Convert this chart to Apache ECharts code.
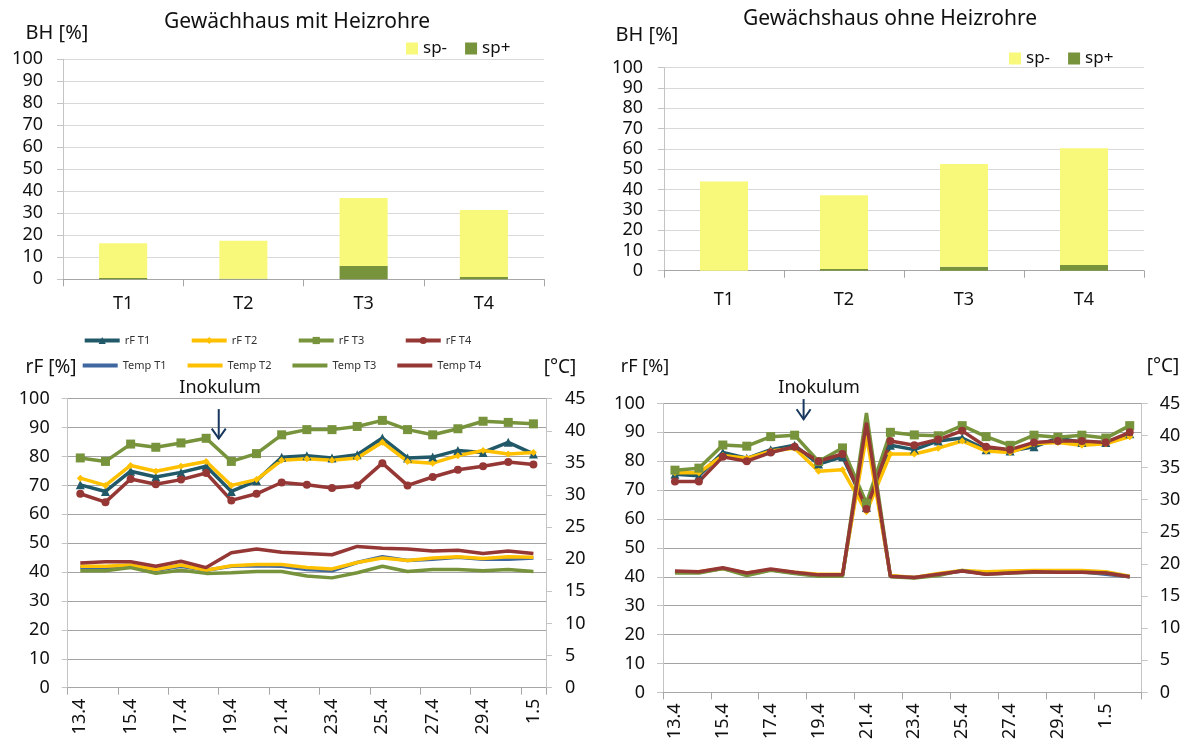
<!DOCTYPE html>
<html lang="de">
<head>
    <meta charset="UTF-8">
    <title>Befallshaeufigkeit und Klima</title>
    <script src="https://cdn.jsdelivr.net/npm/echarts@6/dist/echarts.min.js"></script>
    <style>
        html, body {
            margin: 0;
            padding: 0;
            background: #fff;
        }

        #main {
            width: 1184px;
            height: 754px;
        }
    </style>
</head>
<body>
<div id="main"></div>
<script>
    // Befallshaeufigkeit (BH) je Variante
    var varianten = ['T1', 'T2', 'T3', 'T4'];
    var mitSpMinus = [15.8, 17.3, 30.9, 30.4];
    var mitSpPlus = [0.6, 0.2, 6.1, 1.1];
    var ohneSpMinus = [44.0, 36.4, 50.6, 57.5];
    var ohneSpPlus = [0, 0.8, 2.0, 2.8];

    // Tage fuer die Klimadaten
    var tageMit = ['13.4', '14.4', '15.4', '16.4', '17.4', '18.4', '19.4', '20.4', '21.4', '22.4',
        '23.4', '24.4', '25.4', '26.4', '27.4', '28.4', '29.4', '30.4', '1.5'];
    var tageOhne = ['13.4', '14.4', '15.4', '16.4', '17.4', '18.4', '19.4', '20.4', '21.4', '22.4',
        '23.4', '24.4', '25.4', '26.4', '27.4', '28.4', '29.4', '30.4', '1.5', '2.5'];

    // Gewaechshaus mit Heizrohre: rel. Feuchte [%] und Temperatur [C]
    var mitRfT1 = [70.2, 67.9, 74.9, 72.9, 74.5, 76.6, 67.9, 71.6, 79.7, 80.3, 79.5, 80.6, 86.4, 79.5, 79.8, 82.1, 81.4, 84.9, 80.9];
    var mitRfT2 = [72.5, 70.0, 76.9, 74.9, 76.6, 78.3, 70.0, 72.0, 78.7, 79.2, 78.7, 79.5, 84.9, 78.3, 77.7, 80.3, 82.1, 80.9, 81.4];
    var mitRfT3 = [79.5, 78.3, 84.3, 83.2, 84.7, 86.3, 78.3, 81.0, 87.5, 89.3, 89.3, 90.4, 92.5, 89.3, 87.5, 89.6, 92.2, 91.8, 91.3];
    var mitRfT4 = [67.1, 64.2, 72.2, 70.4, 72.0, 74.3, 64.8, 67.1, 71.0, 70.2, 69.1, 70.0, 77.7, 70.0, 72.9, 75.4, 76.6, 78.1, 77.2];
    var mitTempT1 = [18.7, 18.7, 18.9, 18.3, 18.9, 18.3, 18.9, 19.0, 18.9, 18.4, 18.2, 19.5, 20.4, 19.8, 20.0, 20.3, 20.0, 20.0, 20.2];
    var mitTempT2 = [18.9, 18.9, 19.1, 18.4, 19.1, 18.3, 19.0, 19.2, 19.2, 18.7, 18.5, 19.5, 20.2, 19.8, 20.2, 20.4, 20.1, 20.4, 20.3];
    var mitTempT3 = [18.2, 18.2, 18.7, 17.8, 18.3, 17.8, 17.9, 18.1, 18.1, 17.4, 17.1, 17.9, 18.9, 18.1, 18.4, 18.4, 18.2, 18.4, 18.1];
    var mitTempT4 = [19.4, 19.6, 19.6, 18.9, 19.7, 18.7, 21.0, 21.6, 21.1, 20.9, 20.7, 22.0, 21.7, 21.6, 21.3, 21.4, 20.9, 21.3, 20.9];

    // Gewaechshaus ohne Heizrohre
    var ohneRfT1 = [75.5, 75.0, 83.0, 81.0, 84.0, 85.5, 79.0, 81.5, 64.0, 85.5, 84.0, 87.0, 88.0, 84.0, 83.5, 85.0, 88.0, 86.5, 86.5, 89.5];
    var ohneRfT2 = [76.0, 76.0, 82.0, 81.0, 83.5, 84.5, 76.5, 77.0, 62.5, 82.5, 82.5, 84.5, 87.0, 83.5, 83.0, 86.0, 86.5, 85.5, 86.0, 88.5];
    var ohneRfT3 = [76.9, 77.6, 85.6, 85.2, 88.5, 89.0, 79.9, 84.6, 65.5, 90.0, 89.1, 88.8, 92.3, 88.5, 85.5, 89.0, 88.3, 89.0, 88.0, 92.3];
    var ohneRfT4 = [73.0, 73.0, 81.5, 80.0, 83.0, 85.0, 80.0, 82.5, 63.5, 87.0, 85.5, 87.5, 90.5, 85.0, 84.0, 86.5, 87.0, 87.0, 86.5, 90.0];
    var ohneTempT1 = [18.8, 18.7, 19.3, 18.5, 19.1, 18.6, 18.2, 18.2, 41.0, 18.1, 17.9, 18.4, 18.9, 18.5, 18.7, 18.8, 18.8, 18.8, 18.4, 18.0];
    var ohneTempT2 = [18.8, 18.8, 19.3, 18.6, 19.1, 18.7, 18.4, 18.4, 40.0, 18.2, 17.9, 18.5, 19.0, 18.8, 18.9, 19.0, 19.0, 19.0, 18.8, 18.1];
    var ohneTempT3 = [18.6, 18.6, 19.3, 18.2, 19.0, 18.5, 18.1, 18.1, 43.5, 18.0, 17.8, 18.2, 19.0, 18.4, 18.6, 18.7, 18.7, 18.7, 18.6, 18.0];
    var ohneTempT4 = [18.9, 18.8, 19.4, 18.6, 19.2, 18.7, 18.3, 18.3, 42.0, 18.1, 17.9, 18.4, 18.9, 18.4, 18.6, 18.8, 18.7, 18.7, 18.6, 18.0];

    var font = '"Noto Sans", sans-serif';
    var gelb = '#F8F97B';
    var gruen = '#77933C';
    var farben = {
        rfT1: '#215968', rfT2: '#FFC000', rfT3: '#77933C', rfT4: '#953735',
        tT1: '#3F67A0', tT2: '#FFC000', tT3: '#77933C', tT4: '#953735'
    };

    function valueAxis(grid, max, step, pos, splitColor, margin) {
        return {
            type: 'value',
            gridIndex: grid,
            position: pos,
            min: 0,
            max: max,
            interval: step,
            axisLine: { show: true, lineStyle: { color: '#C4C4C4', width: 1 } },
            axisTick: { show: true, length: 6, lineStyle: { color: '#C4C4C4' } },
            axisLabel: { fontFamily: font, fontSize: 18, color: '#111', margin: margin },
            splitLine: splitColor ? { show: true, lineStyle: { color: splitColor, width: 1 } } : { show: false }
        };
    }

    function catAxis(grid, data, lblInterval, margin, rotate, fontSize) {
        return {
            type: 'category',
            gridIndex: grid,
            data: data,
            boundaryGap: true,
            axisLine: { show: true, lineStyle: { color: '#A6A6A6', width: 1 } },
            axisTick: { show: true, length: 7, interval: lblInterval, lineStyle: { color: '#A6A6A6' } },
            axisLabel: {
                fontFamily: font, fontSize: fontSize, color: '#111', margin: margin,
                interval: lblInterval, rotate: rotate
            }
        };
    }

    function bar(name, x, stack, data, color) {
        return {
            name: name, type: 'bar', xAxisIndex: x, yAxisIndex: x, stack: stack,
            data: data, barWidth: '40%', itemStyle: { color: color }
        };
    }

    function rfLine(name, x, y, data, color, symbol, size) {
        return {
            name: name, type: 'line', xAxisIndex: x, yAxisIndex: y, data: data,
            symbol: symbol, symbolSize: size, showAllSymbol: true,
            lineStyle: { color: color, width: 3.5 },
            itemStyle: { color: color, borderWidth: 0 }
        };
    }

    function tempLine(name, x, y, data, color) {
        return {
            name: name, type: 'line', xAxisIndex: x, yAxisIndex: y, data: data,
            symbol: 'none', lineStyle: { color: color, width: 3.5 },
            itemStyle: { color: color }
        };
    }

    function txt(text, x, y, size) {
        return {
            type: 'text', x: x, y: y,
            style: {
                text: text, fontFamily: font, fontSize: size, fill: '#111',
                align: 'center', verticalAlign: 'middle'
            }
        };
    }

    var legendText = { fontFamily: font, fontSize: 11, color: '#333' };

    var option = {
        animation: false,
        backgroundColor: '#fff',
        grid: [
            { left: 63, top: 59.3, width: 481, height: 220 },
            { left: 664, top: 67.7, width: 480, height: 203 },
            { left: 67.7, top: 398.7, width: 478.3, height: 289 },
            { left: 663, top: 403.4, width: 478.7, height: 289 }
        ],
        xAxis: [
            catAxis(0, varianten, 0, 16, 0, 18),
            catAxis(1, varianten, 0, 20, 0, 18),
            catAxis(2, tageMit, 1, 11, 90, 18),
            catAxis(3, tageOhne, 1, 11, 90, 18)
        ],
        yAxis: [
            valueAxis(0, 100, 10, 'left', '#D9D9D9', 20),
            valueAxis(1, 100, 10, 'left', '#D9D9D9', 21),
            valueAxis(2, 100, 10, 'left', '#A3A3A3', 18),
            valueAxis(2, 45, 5, 'right', null, 19),
            valueAxis(3, 100, 10, 'left', '#A3A3A3', 18),
            valueAxis(3, 45, 5, 'right', null, 18)
        ],
        legend: [
            {
                data: ['sp-', 'sp+'], left: 406, top: 40, padding: 0,
                itemWidth: 12, itemHeight: 12, itemGap: 18,
                icon: 'rect', textStyle: { fontFamily: font, fontSize: 17, color: '#111' }
            },
            {
                data: ['sp-', 'sp+'], left: 1009, top: 50, padding: 0,
                itemWidth: 12, itemHeight: 12, itemGap: 18,
                icon: 'rect', textStyle: { fontFamily: font, fontSize: 17, color: '#111' }
            },
            {
                data: ['rF T1', 'rF T2', 'rF T3', 'rF T4'], left: 82.7, top: 335, padding: 0,
                itemWidth: 35, itemHeight: 9, itemGap: 39.5,
                lineStyle: { width: 4 },
                textStyle: legendText
            },
            {
                data: ['Temp T1', 'Temp T2', 'Temp T3', 'Temp T4'], left: 82.7, top: 360, padding: 0,
                itemWidth: 35, itemHeight: 4, itemGap: 21, icon: 'rect',
                textStyle: legendText
            }
        ],
        series: [
            bar('sp+', 0, 'mit', mitSpPlus, gruen),
            bar('sp-', 0, 'mit', mitSpMinus, gelb),
            bar('sp+', 1, 'ohne', ohneSpPlus, gruen),
            bar('sp-', 1, 'ohne', ohneSpMinus, gelb),

            rfLine('rF T1', 2, 2, mitRfT1, farben.rfT1, 'triangle', 9),
            rfLine('rF T2', 2, 2, mitRfT2, farben.rfT2, 'diamond', 7),
            rfLine('rF T3', 2, 2, mitRfT3, farben.rfT3, 'rect', 9),
            rfLine('rF T4', 2, 2, mitRfT4, farben.rfT4, 'circle', 8),
            tempLine('Temp T1', 2, 3, mitTempT1, farben.tT1),
            tempLine('Temp T2', 2, 3, mitTempT2, farben.tT2),
            tempLine('Temp T3', 2, 3, mitTempT3, farben.tT3),
            tempLine('Temp T4', 2, 3, mitTempT4, farben.tT4),

            rfLine('rF T1', 3, 4, ohneRfT1, farben.rfT1, 'triangle', 9),
            rfLine('rF T2', 3, 4, ohneRfT2, farben.rfT2, 'diamond', 7),
            rfLine('rF T3', 3, 4, ohneRfT3, farben.rfT3, 'rect', 9),
            rfLine('rF T4', 3, 4, ohneRfT4, farben.rfT4, 'circle', 8),
            tempLine('Temp T1', 3, 5, ohneTempT1, farben.tT1),
            tempLine('Temp T2', 3, 5, ohneTempT2, farben.tT2),
            tempLine('Temp T3', 3, 5, ohneTempT3, farben.tT3),
            tempLine('Temp T4', 3, 5, ohneTempT4, farben.tT4)
        ]
    };

    var myChart = echarts.init(document.getElementById('main'));
    myChart.setOption(option);

    // Beschriftungen und Inokulum-Pfeile (an den Achsen ausgerichtet)
    function pfeil(xIdx, yIdx, cats, vonWert, bisWert, dx) {
        var xa = myChart.convertToPixel({ xAxisIndex: xIdx }, cats[5]);
        var xb = myChart.convertToPixel({ xAxisIndex: xIdx }, cats[6]);
        var x = (xa + xb) / 2 + dx;
        var y1 = myChart.convertToPixel({ yAxisIndex: yIdx }, vonWert);
        var y2 = myChart.convertToPixel({ yAxisIndex: yIdx }, bisWert);
        var st = { stroke: '#17375E', lineWidth: 2, fill: null };
        return [
            { type: 'line', shape: { x1: x, y1: y1, x2: x, y2: y2 }, style: st },
            { type: 'polyline', shape: { points: [[x - 7, y2 - 10], [x, y2], [x + 7, y2 - 10]] }, style: st }
        ];
    }

    var graphics = [
        txt('Gewächhaus mit Heizrohre', 297, 22, 21),
        txt('Gewächshaus ohne Heizrohre', 890, 19, 21),
        txt('BH [%]', 57, 33, 20),
        txt('BH [%]', 647, 35, 20),
        txt('rF [%]', 51, 368, 19),
        txt('[°C]', 560, 368, 19),
        txt('rF [%]', 645, 367, 18),
        txt('[°C]', 1163, 367, 19),
        txt('Inokulum', 220, 388, 18),
        txt('Inokulum', 819, 388, 18)
    ];
    graphics = graphics.concat(pfeil(2, 2, tageMit, 96.4, 86.2, 0));
    graphics = graphics.concat(pfeil(3, 4, tageOhne, 101.5, 94.5, -3));

    myChart.setOption({ graphic: graphics });
</script>
</body>
</html>
